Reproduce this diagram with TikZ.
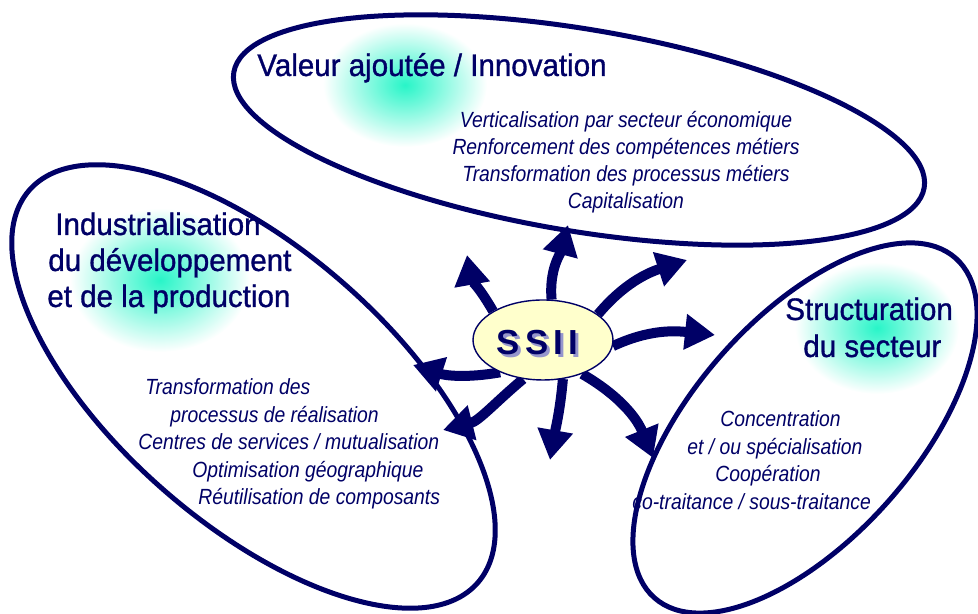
\documentclass[tikz,border=0pt]{standalone}
\usepackage{fontspec}
\setmainfont{Liberation Sans}
\newfontfamily\titlefont[FakeStretch=0.95, FakeBold=1]{Liberation Sans}
\newfontfamily\itemfont[FakeStretch=0.88]{Liberation Sans}
\usepackage{tikz}
\usetikzlibrary{arrows.meta, shapes.geometric, backgrounds}

\definecolor{navy}{RGB}{0,0,102}
\definecolor{glow}{RGB}{40,245,200}
\definecolor{cream}{RGB}{255,255,204}
\definecolor{shadowblue}{RGB}{150,150,205}

\newcommand\ssiiword{S\kern3pt S\kern3pt I\kern3pt I}

\begin{document}
\begin{tikzpicture}[x=0.02cm, y=0.02cm,
  outline/.style={navy, line width=0.1cm},
  glowspot/.style={inner color=glow, outer color=white},
  spoke/.style={navy, line width=0.2cm, -{Triangle[length=0.6cm, width=0.68cm]}},
  titletext/.style={text=navy, font=\titlefont\fontsize{17.7}{20}\selectfont, inner sep=0pt, anchor=base west},
  itemtext/.style={text=navy, font=\itemfont\itshape\fontsize{12.5}{15}\selectfont, inner sep=0pt, anchor=base west},
  ssiibox/.style={ellipse, draw=navy, line width=0.8pt, fill=cream, minimum width=2.8cm, minimum height=1.6cm, inner sep=0pt},
  ssiilabel/.style={text=navy, font=\bfseries\fontsize{19.8}{22}\selectfont, inner sep=0pt}]
  \useasboundingbox (0,0) rectangle (978,614);

  % --- Glows behind the titles ---
  \begin{scope}[on background layer]
    \shade[glowspot] (405,529) ellipse (82 and 62);
    \shade[glowspot] (160,334) ellipse (90 and 72);
    \shade[glowspot] (877,286) ellipse (82 and 66);
  \end{scope}

  % --- The three domains ---
  \draw[outline, rotate around={-9.5:(579,484)}] (579,484) ellipse (350 and 101);
  \draw[outline, rotate around={-41.2:(253.5,227.5)}] (253.5,227.5) ellipse (298 and 137);
  \draw[outline, rotate around={48.4:(805,186)}] (805,186) ellipse (227 and 111);

  % --- Centre ---
  \node[ssiibox] (ssii) at (543,274) {};
  \node[ssiilabel] (ssiitext) at (537.5,269.5)
    {\rlap{\kern1.7pt\raisebox{-1.7pt}{\color{shadowblue}\ssiiword}}\ssiiword};

  % --- Arrows out of the centre ---
  \coordinate (tip1) at (467,359);
  \coordinate (tip2) at (568,389);
  \coordinate (tip3) at (687,354);
  \coordinate (tip4) at (715,279);
  \coordinate (tip5) at (653,156);
  \coordinate (tip6) at (550,154);
  \coordinate (tip7) at (443,184);
  \coordinate (tip8) at (413,249);
  \begin{scope}[on background layer]
    \foreach \a/\o/\i/\t in {150/120/-80/tip1, 78/95/-105/tip2, 25/50/198/tip3, -5/25/174/tip4,
                             -41/-30/112/tip5, -63/-95/80/tip6, -117/-140/14/tip7, 217/190/-18/tip8}
      \draw[spoke] (ssii.\a) to[out=\o, in=\i] (\t);
  \end{scope}

  % --- Titles ---
  \node[titletext] (valtitle) at (257,538) {Valeur ajoutée / Innovation};
  \node[titletext] (indtitle1) at (55,379) {Industrialisation};
  \node[titletext] (indtitle2) at (48,343) {du développement};
  \node[titletext] (indtitle3) at (47,307) {et de la production};
  \node[titletext] (strtitle1) at (785,294) {Structuration};
  \node[titletext] (strtitle2) at (803,257) {du secteur};

  % --- Items ---
  \foreach \txt [count=\i] in {Verticalisation par secteur économique, Renforcement des compétences métiers,
                               Transformation des processus métiers, Capitalisation}
    \node[itemtext, anchor=base] (val\i) at (626,513-27*\i) {\txt};

  \foreach \x/\txt [count=\i] in {145/{Transformation des}, 170/{processus de réalisation},
                                  138/{Centres de services / mutualisation}, 192/{Optimisation géographique},
                                  198/{Réutilisation de composants}}
    \node[itemtext] (ind\i) at (\x,246.5-27.5*\i) {\txt};

  \foreach \x/\txt [count=\i] in {720/{Concentration}, 687/{et / ou spécialisation},
                                  715/{Coopération}, 632/{co-traitance / sous-traitance}}
    \node[itemtext] (str\i) at (\x,214.5-27.5*\i) {\txt};

\end{tikzpicture}
\end{document}
